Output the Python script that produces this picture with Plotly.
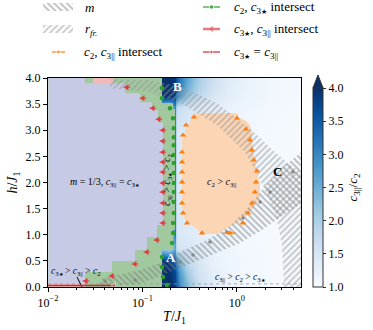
import math
import plotly.graph_objects as go

FONT = "Liberation Serif"


def star(px):
    return '<span style="font-size:%dpx">★</span>' % px


# ---------------- background field c3||/c2 ----------
ratio_T = [0.15, 0.19, 0.2215, 0.228, 0.245, 0.3, 0.4, 0.55, 0.8, 1.3, 2.2, 4.8]
ratio_h = [0.0, 0.25, 0.5, 0.75, 1.0, 2.0, 3.0, 3.45, 3.65, 3.85, 4.0]
ratio_z = [
    [4.0, 4.0, 3.8, 3.5, 3.0, 2.3, 1.65, 1.35, 1.18, 1.08, 1.05, 1.03],
    [4.0, 4.0, 3.7, 3.4, 2.8, 2.1, 1.55, 1.30, 1.16, 1.08, 1.05, 1.03],
    [4.0, 3.9, 3.4, 3.0, 2.4, 1.8, 1.45, 1.25, 1.14, 1.08, 1.05, 1.03],
    [2.2, 1.8, 2.6, 1.6, 1.55, 1.5, 1.35, 1.20, 1.12, 1.07, 1.05, 1.03],
    [1.5, 1.5, 3.2, 1.45, 1.42, 1.4, 1.30, 1.20, 1.12, 1.07, 1.05, 1.03],
    [1.5, 1.5, 3.2, 1.45, 1.4, 1.35, 1.28, 1.20, 1.12, 1.07, 1.05, 1.03],
    [1.5, 1.5, 3.2, 1.45, 1.42, 1.4, 1.30, 1.22, 1.15, 1.10, 1.06, 1.03],
    [2.2, 2.0, 3.0, 1.8, 1.7, 1.55, 1.40, 1.30, 1.20, 1.13, 1.08, 1.04],
    [4.0, 4.0, 3.8, 3.2, 2.8, 2.2, 1.80, 1.50, 1.30, 1.18, 1.10, 1.05],
    [4.0, 4.0, 3.9, 3.5, 3.1, 2.5, 1.95, 1.60, 1.35, 1.20, 1.10, 1.05],
    [4.0, 4.0, 3.9, 3.6, 3.2, 2.6, 2.00, 1.65, 1.38, 1.20, 1.10, 1.05],
]

# ---------------- regions ----------------
green_T = [0.0101, 0.1613, 0.1613, 0.211, 0.211, 0.2215, 0.2215, 0.2109, 0.2109, 0.1613, 0.1613, 0.0101]
green_h = [0.0, 0.0, 0.707, 0.707, 1.1, 1.1, 3.4, 3.4, 3.518, 3.518, 4.0, 4.0]

gband_T = [0.1428, 0.211, 0.211, 0.2215, 0.2215, 0.2109, 0.2109, 0.1463, 0.1463, 0.1653, 0.1653, 0.1428]
gband_h = [0.707, 0.707, 1.1, 1.1, 3.4, 3.4, 3.518, 3.518, 3.155, 3.155, 1.185, 1.185]

lav_T = [0.0101, 0.0247, 0.0247, 0.0477, 0.0477, 0.0836, 0.0836, 0.1119, 0.1119, 0.1428,
         0.1428, 0.1653, 0.1653, 0.1463, 0.1463, 0.1265, 0.1265, 0.0944, 0.0944, 0.0655,
         0.0655, 0.0247, 0.0247, 0.0101]
lav_h = [0.076, 0.076, 0.287, 0.287, 0.497, 0.497, 0.707, 0.707, 0.956, 0.956,
         1.185, 1.185, 3.155, 3.155, 3.384, 3.384, 3.537, 3.537, 3.709, 3.709,
         3.901, 3.901, 4.0, 4.0]

pink_top_T = [0.030, 0.0489, 0.0489, 0.030]
pink_top_h = [3.90, 3.90, 4.0, 4.0]
pink_bot_T = [0.0101, 0.0247, 0.0247, 0.0101]
pink_bot_h = [0.0, 0.0, 0.076, 0.076]

orange_T = [0.3433, 1.030, 1.030, 1.222, 1.380, 1.449, 1.485, 1.637, 1.762, 1.762, 1.559,
            1.380, 1.163, 1.005, 0.787, 0.617, 0.428, 0.388, 0.2826, 0.2692, 0.2627,
            0.2627, 0.2826, 0.304, 0.335]
orange_h = [3.327, 3.327, 3.250, 3.193, 3.098, 2.906, 2.581, 2.199, 1.950, 1.721, 1.568,
            1.434, 1.319, 1.224, 1.128, 1.013, 1.013, 1.090, 1.281, 1.472, 1.568,
            2.811, 2.964, 3.098, 3.231]

rfr_T = [0.0454, 0.1204, 0.2692, 0.617, 1.380, 2.541, 3.661, 4.786, 4.786, 3.162, 3.011,
         2.602, 2.039, 1.597, 1.222, 0.617, 0.2692, 0.1204, 0.0454]
rfr_h = [3.977, 3.958, 3.824, 3.518, 3.040, 2.581, 2.333, 2.199, 0.0, 0.0, 0.803,
         1.377, 1.816, 2.199, 2.581, 3.098, 3.499, 3.728, 3.805]

m_T = [0.0356, 0.0944, 0.1734, 0.4834, 1.081, 1.849, 3.240, 4.786, 4.786, 2.868, 1.849,
       1.314, 0.8472, 0.4834, 0.2503, 0.1535, 0.0944, 0.0356]
m_h = [0.0, 0.057, 0.249, 0.574, 0.841, 1.090, 1.396, 1.587, 2.581, 2.237, 1.855,
       1.511, 1.166, 0.899, 0.669, 0.459, 0.325, 0.153]

mdot_T = [0.0402, 0.0836, 0.2503, 0.3433, 0.5196, 0.787, 1.163, 1.762, 2.248, 3.937]
mdot_h = [0.115, 0.134, 0.478, 0.612, 0.860, 1.052, 1.319, 1.625, 1.816, 2.199]

dotted_T = [0.01, 4.786]
dotted_h = [0.06, 0.06]

pointer_T = [0.0203, 0.0229]
pointer_h = [0.19, 0.0]

# ---------------- boundary points ----------------
c2c3par_T = [0.352, 1.005, 1.250, 1.380, 1.449, 1.521, 1.637, 1.597, 1.559, 1.449, 1.314,
             1.163, 0.847, 0.428, 0.297, 0.2692, 0.2627, 0.2627, 0.2627, 0.2627, 0.2627,
             0.2627, 0.2692, 0.290]
c2c3par_h = [3.25, 3.231, 3.021, 2.811, 2.620, 2.428, 2.218, 2.008, 1.816, 1.606, 1.415,
             1.224, 1.033, 1.033, 1.224, 1.415, 1.606, 1.816, 2.008, 2.199, 2.390,
             2.581, 2.906, 3.098]
c2c3par_err = [0.02, 0.03, 0.04, 0.04, 0.04, 0.05, 0.05, 0.05, 0.05, 0.05, 0.05,
               0.07, 0.13, 0.02, 0.01, 0.01, 0.01, 0.01, 0.01, 0.01, 0.01,
               0.01, 0.01, 0.01]

c2c3star_T = [0.1613, 0.1613, 0.1959, 0.2109, 0.215, 0.215, 0.215, 0.215, 0.215, 0.215,
              0.215, 0.215, 0.215, 0.215, 0.2109, 0.2109, 0.2059, 0.1613, 0.1613, 0.1653, 0.1823]
c2c3star_h = [3.805, 3.614, 3.423, 3.231, 3.040, 2.868, 2.715, 2.524, 2.371, 2.180,
              1.989, 1.816, 1.625, 1.415, 1.224, 1.033, 0.841, 0.574, 0.382, 0.191, 0.038]

c3c3_T = [0.0687, 0.1015, 0.1295, 0.1499, 0.1653, 0.1653, 0.1653, 0.1653, 0.1653, 0.1653,
          0.1653, 0.1653, 0.1653, 0.1653, 0.1428, 0.1119, 0.0836, 0.0477, 0.0253]
c3c3_h = [3.824, 3.614, 3.423, 3.212, 3.002, 2.792, 2.581, 2.390, 2.199, 1.989,
          1.816, 1.606, 1.415, 1.224, 0.899, 0.669, 0.440, 0.210, 0.115]

c3eq_T = [0.01, 0.0500]
c3eq_h = [0.03, 0.03]

# ---------------- legend layout ----------------
S_LEG = star(7)
leg_labels = ["<i>m</i>", "<i>r</i><sub><i>fr.</i></sub>",
              "<i>c</i><sub>2</sub>, <i>c</i><sub>3||</sub> intersect",
              "<i>c</i><sub>2</sub>, <i>c</i><sub>3" + S_LEG + "</sub> intersect",
              "<i>c</i><sub>3" + S_LEG + "</sub>, <i>c</i><sub>3||</sub> intersect",
              "<i>c</i><sub>3" + S_LEG + "</sub> = <i>c</i><sub>3||</sub>"]
leg_text_x = [83, 83, 82, 232, 232, 232]
leg_row_y = [7, 29, 52, 7, 29, 52]

blues = [[0.0, "#f7fbff"], [0.125, "#deebf7"], [0.25, "#c6dbef"], [0.375, "#9ecae1"],
         [0.5, "#6baed6"], [0.625, "#4292c6"], [0.75, "#2171b5"], [0.875, "#08519c"],
         [1.0, "#08306b"]]

fig = go.Figure()

# heatmap on its own hidden linear (log10 T) base axis, drawn beneath everything
fig.add_trace(go.Heatmap(
    x=[math.log10(t) for t in ratio_T], y=ratio_h, z=ratio_z, xaxis="x3", yaxis="y",
    zmin=1, zmax=4, zsmooth="best", colorscale=blues, showscale=True, hoverinfo="skip",
    colorbar=dict(
        x=0.8391, xanchor="left", xpad=0, ypad=0, y=0, yanchor="bottom",
        len=0.6934, lenmode="fraction", thickness=10,
        outlinecolor="#333333", outlinewidth=1,
        ticks="outside", ticklen=3, tickcolor="#333333",
        tickvals=[1.0, 1.5, 2.0, 2.5, 3.0, 3.5, 4.0], tickformat=".1f",
        tickfont=dict(family=FONT, size=12, color="black"),
        title=dict(text="<i>c</i><sub>3||</sub>/<i>c</i><sub>2</sub>", side="right",
                   font=dict(family=FONT, size=13, color="black")),
    ),
))

def region(xs, ys, color):
    fig.add_trace(go.Scatter(x=xs, y=ys, mode="none", fill="toself", fillcolor=color,
                             line=dict(simplify=False),
                             showlegend=False, hoverinfo="skip"))

GREEN_FILL = "#a1c89f"
region(green_T, green_h, GREEN_FILL)
region(lav_T, lav_h, "#c6cae4")
region(gband_T, gband_h, GREEN_FILL)
region(pink_top_T, pink_top_h, "#f3b9b9")
region(pink_bot_T, pink_bot_h, "#eec0c0")
region(orange_T, orange_h, "#fcd5b4")

fig.add_trace(go.Scatter(x=dotted_T, y=dotted_h, mode="lines",
                         line=dict(color="#999999", width=0.8, dash="dot"),
                         showlegend=False, hoverinfo="skip"))

M_PAT = dict(shape="\\", fgcolor="#7c7c7c", size=4.5, solidity=0.4, fillmode="overlay")
R_PAT = dict(shape="/", fgcolor="#959595", size=4.5, solidity=0.4, fillmode="overlay")

fig.add_trace(go.Scatter(x=rfr_T, y=rfr_h, mode="none", fill="toself",
                         fillcolor="rgba(0,0,0,0)", fillpattern=R_PAT,
                         line=dict(simplify=False), showlegend=False, hoverinfo="skip"))
fig.add_trace(go.Scatter(x=m_T, y=m_h, mode="none", fill="toself",
                         fillcolor="rgba(0,0,0,0)", fillpattern=M_PAT,
                         line=dict(simplify=False), showlegend=False, hoverinfo="skip"))

fig.add_trace(go.Scatter(x=mdot_T, y=mdot_h, mode="markers",
                         marker=dict(color="#888888", size=3.5),
                         showlegend=False, hoverinfo="skip"))

fig.add_trace(go.Scatter(x=pointer_T, y=pointer_h, mode="lines",
                         line=dict(color="black", width=1),
                         showlegend=False, hoverinfo="skip"))

RED_EQ = "#d62728"
RED_INT = "#e3393c"
GREEN = "#2ca02c"
ORANGE = "#ff7f0e"

fig.add_trace(go.Scatter(
    x=c3eq_T, y=c3eq_h, mode="lines+markers",
    line=dict(color=RED_EQ, width=1.5),
    marker=dict(color=RED_EQ, size=[0, 5], symbol="triangle-left"),
    showlegend=False, hoverinfo="skip"))

fig.add_trace(go.Scatter(
    x=c3c3_T, y=c3c3_h, mode="markers",
    marker=dict(color=RED_INT, size=5.5, symbol="triangle-left"),
    error_x=dict(type="percent", value=8, color=RED_INT, thickness=1, width=0),
    showlegend=False, hoverinfo="skip"))

fig.add_trace(go.Scatter(
    x=c2c3star_T, y=c2c3star_h, mode="markers",
    marker=dict(color=GREEN, size=4.5, symbol="circle"),
    error_x=dict(type="percent", value=3, color=GREEN, thickness=1, width=0),
    showlegend=False, hoverinfo="skip"))

fig.add_trace(go.Scatter(
    x=c2c3par_T, y=c2c3par_h, mode="markers",
    marker=dict(color=ORANGE, size=5.5, symbol="triangle-up"),
    error_x=dict(type="data", array=c2c3par_err, color=ORANGE, thickness=1.2, width=0),
    showlegend=False, hoverinfo="skip"))

# ---------------- legend panel ----------------
def leg_trace(**kw):
    kw.setdefault("showlegend", False)
    kw.setdefault("hoverinfo", "skip")
    fig.add_trace(go.Scatter(xaxis="x2", yaxis="y2", **kw))

leg_trace(x=[43, 73, 73, 43], y=[3, 3, 11, 11], mode="none", fill="toself",
          fillcolor="rgba(0,0,0,0)", fillpattern=M_PAT)
leg_trace(x=[43, 73, 73, 43], y=[25, 25, 33, 33], mode="none", fill="toself",
          fillcolor="rgba(0,0,0,0)", fillpattern=R_PAT)
leg_trace(x=[52, 58.5, 65], y=[52, 52, 52], mode="lines+markers",
          line=dict(color=ORANGE, width=1.2),
          marker=dict(color=ORANGE, size=[0, 5, 0], symbol="triangle-up"))
leg_trace(x=[203, 211.5, 220], y=[7, 7, 7], mode="lines+markers",
          line=dict(color=GREEN, width=1.2),
          marker=dict(color=GREEN, size=[0, 4.5, 0], symbol="circle"))
leg_trace(x=[203, 211.5, 220], y=[29, 29, 29], mode="lines+markers",
          line=dict(color="#e87a7c", width=2.5),
          marker=dict(color=RED_INT, size=[0, 4.5, 0], symbol="triangle-left"))
leg_trace(x=[203, 211.5, 220], y=[52, 52, 52], mode="lines+markers",
          line=dict(color=RED_EQ, width=1.2),
          marker=dict(color=RED_EQ, size=[0, 4.5, 0], symbol="triangle-left"))

for lx, ly, lt in zip(leg_text_x, leg_row_y, leg_labels):
    fig.add_annotation(x=lx, y=ly, xref="x2", yref="y2", text=lt, showarrow=False,
                       xanchor="left", yanchor="middle",
                       font=dict(family=FONT, size=13, color="black"))

# ---------------- annotations ----------------
S_TXT = star(5)

def note(x, y, text, size=10, color="black", angle=0, anchor="center", bold=False):
    if bold:
        text = "<b>" + text + "</b>"
    fig.add_annotation(x=x, y=y, xref="x", yref="y", text=text, showarrow=False,
                       textangle=angle, xanchor=anchor,
                       font=dict(family=FONT, size=size, color=color))

note(-1.40, 2.0, "<i>m</i> = 1/3, <i>c</i><sub>3||</sub> = <i>c</i><sub>3" + S_TXT + "</sub>", 10)
note(-0.727, 2.05, "<i>c</i><sub>3||</sub> &gt; <i>c</i><sub>3" + S_TXT + "</sub> &gt; <i>c</i><sub>2</sub>", 10, angle=-90)
note(-0.157, 2.0, "<i>c</i><sub>2</sub> &gt; <i>c</i><sub>3||</sub>", 10)
note(-1.985, 0.29, "<i>c</i><sub>3" + S_TXT + "</sub> &gt; <i>c</i><sub>3||</sub> &gt; <i>c</i><sub>2</sub>", 9.5, anchor="left")
note(0.04, 0.19, "<i>c</i><sub>3||</sub> &gt; <i>c</i><sub>2</sub> &gt; <i>c</i><sub>3" + S_TXT + "</sub>", 9.5)
note(-0.697, 0.56, "A", 13, color="white", bold=True)
note(-0.633, 3.84, "B", 13, color="white", bold=True)
note(0.436, 2.22, "C", 13, color="black", bold=True)

fig.add_shape(type="path", xref="paper", yref="paper",
              path="M0.8391,0.6934 L0.8660,0.6934 L0.8525,0.7387 Z",
              fillcolor="#08306b", line=dict(color="#333333", width=1))

fig.update_layout(
    width=373, height=330,
    margin=dict(l=0, r=0, t=0, b=43, autoexpand=False),
    paper_bgcolor="white", plot_bgcolor="rgba(0,0,0,0)",
    font=dict(family=FONT, size=12, color="black"),
    showlegend=False,
    xaxis3=dict(range=[-2, 0.68], domain=[0.12869, 0.80697], anchor="y",
                visible=False, fixedrange=True),
    xaxis=dict(type="log", range=[-2, 0.68], domain=[0.12869, 0.80697], anchor="y",
               overlaying="x3",
               tickvals=[0.01, 0.1, 1], ticktext=["10<sup>−2</sup>", "10<sup>−1</sup>", "10<sup>0</sup>"],
               ticks="outside", ticklen=4, tickcolor="black",
               minor=dict(ticks="outside", ticklen=2, tickcolor="black", dtick="D1"),
               showline=True, linecolor="black", linewidth=1.2, mirror=True,
               showgrid=False, zeroline=False, automargin=False,
               title=dict(text="<i>T</i>/<i>J</i><sub>1</sub>", font=dict(size=14), standoff=2),
               tickfont=dict(size=12)),
    yaxis=dict(range=[0, 4], domain=[0, 0.72822], anchor="x", dtick=0.5, tickformat=".1f",
               ticks="outside", ticklen=4, tickcolor="black",
               showline=True, linecolor="black", linewidth=1.2, mirror=True,
               showgrid=False, zeroline=False, automargin=False,
               title=dict(text="<i>h</i>/<i>J</i><sub>1</sub>", font=dict(size=14), standoff=4),
               tickfont=dict(size=12)),
    xaxis2=dict(domain=[0, 1], range=[0, 373], anchor="y2", visible=False, fixedrange=True),
    yaxis2=dict(domain=[0.7491, 1], range=[72, 0], anchor="x2", visible=False, fixedrange=True),
)

fig.write_html("out.html", config={"displayModeBar": False},
               post_script="document.body.style.margin='0px';")
